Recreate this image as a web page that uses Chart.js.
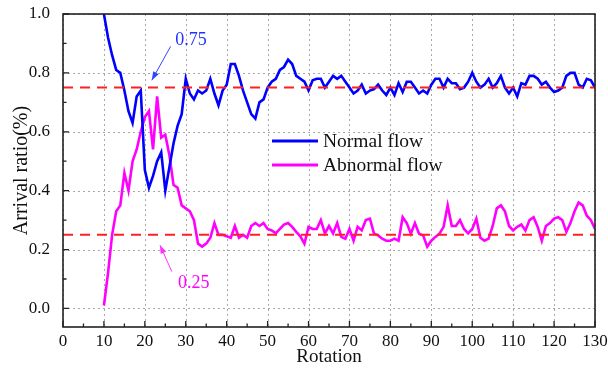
<!DOCTYPE html>
<html>
<head>
<meta charset="utf-8">
<script src="https://cdn.jsdelivr.net/npm/chart.js@4.4.0/dist/chart.umd.min.js"></script>
<style>
  html, body { margin: 0; padding: 0; background: #fff; }
  #wrap { width: 608px; height: 371px; }
</style>
</head>
<body>
<div id="wrap"><canvas id="grafico"></canvas></div>
<script>
// === DADOS ===
const rotation = [
  10, 11, 12, 13, 14, 15, 16, 17, 18, 19, 20, 21, 22, 23, 24, 25, 26, 27, 28, 29,
  30, 31, 32, 33, 34, 35, 36, 37, 38, 39, 40, 41, 42, 43, 44, 45, 46, 47, 48, 49,
  50, 51, 52, 53, 54, 55, 56, 57, 58, 59, 60, 61, 62, 63, 64, 65, 66, 67, 68, 69,
  70, 71, 72, 73, 74, 75, 76, 77, 78, 79, 80, 81, 82, 83, 84, 85, 86, 87, 88, 89,
  90, 91, 92, 93, 94, 95, 96, 97, 98, 99, 100, 101, 102, 103, 104, 105, 106, 107, 108, 109,
  110, 111, 112, 113, 114, 115, 116, 117, 118, 119, 120, 121, 122, 123, 124, 125, 126, 127, 128, 129,
  130
];

const normalFlow = [
  1.00, 0.92, 0.86, 0.81, 0.80, 0.74, 0.67, 0.63, 0.72, 0.74, 0.47, 0.41, 0.45, 0.50, 0.53, 0.40, 0.48, 0.56, 0.62, 0.66,
  0.78, 0.73, 0.71, 0.74, 0.73, 0.74, 0.78, 0.73, 0.69, 0.74, 0.76, 0.83, 0.83, 0.79, 0.74, 0.70, 0.66, 0.645, 0.70, 0.71,
  0.75, 0.77, 0.78, 0.81, 0.82, 0.845, 0.83, 0.79, 0.78, 0.77, 0.74, 0.775, 0.78, 0.78, 0.75, 0.77, 0.79, 0.78, 0.79, 0.77,
  0.75, 0.73, 0.74, 0.76, 0.73, 0.74, 0.745, 0.76, 0.74, 0.725, 0.75, 0.725, 0.765, 0.735, 0.77, 0.77, 0.75, 0.73, 0.74, 0.73,
  0.76, 0.78, 0.78, 0.75, 0.78, 0.765, 0.765, 0.745, 0.75, 0.77, 0.80, 0.77, 0.75, 0.76, 0.78, 0.75, 0.765, 0.79, 0.75, 0.73,
  0.75, 0.72, 0.765, 0.76, 0.79, 0.79, 0.78, 0.76, 0.77, 0.75, 0.735, 0.74, 0.75, 0.79, 0.80, 0.80, 0.76, 0.75, 0.78, 0.775,
  0.75
];

const abnormalFlow = [
  0.01, 0.12, 0.25, 0.33, 0.35, 0.46, 0.40, 0.50, 0.54, 0.60, 0.65, 0.67, 0.54, 0.72, 0.58, 0.59, 0.52, 0.42, 0.41, 0.35,
  0.34, 0.33, 0.30, 0.22, 0.21, 0.22, 0.24, 0.29, 0.25, 0.25, 0.245, 0.24, 0.28, 0.24, 0.25, 0.24, 0.28, 0.29, 0.28, 0.29,
  0.27, 0.265, 0.255, 0.27, 0.285, 0.29, 0.277, 0.26, 0.245, 0.22, 0.277, 0.27, 0.27, 0.30, 0.255, 0.28, 0.255, 0.29, 0.243, 0.237,
  0.27, 0.23, 0.277, 0.265, 0.30, 0.305, 0.254, 0.248, 0.237, 0.23, 0.23, 0.237, 0.23, 0.31, 0.29, 0.254, 0.29, 0.254, 0.248, 0.21,
  0.23, 0.243, 0.254, 0.277, 0.35, 0.28, 0.28, 0.30, 0.27, 0.255, 0.27, 0.305, 0.24, 0.23, 0.237, 0.28, 0.34, 0.35, 0.33, 0.28,
  0.265, 0.277, 0.285, 0.265, 0.30, 0.31, 0.277, 0.23, 0.28, 0.29, 0.305, 0.31, 0.30, 0.26, 0.29, 0.33, 0.36, 0.35, 0.315, 0.30,
  0.27
];

// linhas de referencia (tracejadas)
const refLevels = [0.75, 0.25];
const refLabels = ['0.75', '0.25'];

// ticks
const xTicks = [0, 10, 20, 30, 40, 50, 60, 70, 80, 90, 100, 110, 120, 130];
const yTicks = [0.0, 0.2, 0.4, 0.6, 0.8, 1.0];
const xMinor = [5, 15, 25, 35, 45, 55, 65, 75, 85, 95, 105, 115, 125];
const yMinor = [0.1, 0.3, 0.5, 0.7, 0.9];

const serif = "'Liberation Serif', 'Times New Roman', serif";

function pontos(valores) {
  return valores.map((v, i) => ({ x: rotation[i], y: v }));
}

// === PLUGIN: grade pontilhada, moldura, ticks internos, setas e legenda ===
const decoracao = {
  id: 'decoracao',
  beforeDatasetsDraw(chart) {
    const { ctx, chartArea: a, scales: { x, y } } = chart;
    ctx.save();
    ctx.strokeStyle = '#a8a8a8';
    ctx.lineWidth = 1;
    ctx.setLineDash([2, 3]);
    ctx.beginPath();
    xTicks.forEach(v => { const px = Math.round(x.getPixelForValue(v)) + 0.5; ctx.moveTo(px, a.top); ctx.lineTo(px, a.bottom); });
    yTicks.forEach(v => { const py = Math.round(y.getPixelForValue(v)) + 0.5; ctx.moveTo(a.left, py); ctx.lineTo(a.right, py); });
    ctx.stroke();
    ctx.restore();
  },
  afterDraw(chart) {
    const { ctx, chartArea: a, scales: { x, y } } = chart;
    ctx.save();

    // moldura
    ctx.strokeStyle = '#222';
    ctx.lineWidth = 1.6;
    ctx.strokeRect(a.left, a.top, a.right - a.left, a.bottom - a.top);

    // ticks para dentro
    ctx.lineWidth = 1.3;
    ctx.beginPath();
    xTicks.forEach(v => { const px = x.getPixelForValue(v); ctx.moveTo(px, a.bottom); ctx.lineTo(px, a.bottom - 6); });
    xMinor.forEach(v => { const px = x.getPixelForValue(v); ctx.moveTo(px, a.bottom); ctx.lineTo(px, a.bottom - 3.5); });
    yTicks.forEach(v => { const py = y.getPixelForValue(v); ctx.moveTo(a.left, py); ctx.lineTo(a.left + 6, py); });
    yMinor.forEach(v => { const py = y.getPixelForValue(v); ctx.moveTo(a.left, py); ctx.lineTo(a.left + 3.5, py); });
    ctx.stroke();

    // anotacoes com seta
    const seta = (x0, y0, x1, y1, cor) => {
      const ax = x.getPixelForValue(x0), ay = y.getPixelForValue(y0);
      const bx = x.getPixelForValue(x1), by = y.getPixelForValue(y1);
      const ang = Math.atan2(by - ay, bx - ax);
      ctx.strokeStyle = cor;
      ctx.fillStyle = cor;
      ctx.lineWidth = 1;
      ctx.beginPath();
      ctx.moveTo(ax, ay);
      ctx.lineTo(bx, by);
      ctx.stroke();
      ctx.beginPath();
      ctx.moveTo(bx, by);
      ctx.lineTo(bx - 9 * Math.cos(ang - 0.35), by - 9 * Math.sin(ang - 0.35));
      ctx.lineTo(bx - 9 * Math.cos(ang + 0.35), by - 9 * Math.sin(ang + 0.35));
      ctx.closePath();
      ctx.fill();
    };
    seta(26.3, 0.89, 21.7, 0.775, '#3344ff');
    seta(26.6, 0.125, 23.7, 0.215, '#ff33ff');

    ctx.font = '18px ' + serif;
    ctx.textBaseline = 'middle';
    ctx.textAlign = 'left';
    ctx.fillStyle = '#2233ff';
    ctx.fillText(refLabels[0], x.getPixelForValue(27.4), y.getPixelForValue(0.91));
    ctx.fillStyle = '#ff00ff';
    ctx.fillText(refLabels[1], x.getPixelForValue(28.1), y.getPixelForValue(0.087));

    // legenda
    const itens = [chart.data.datasets[2], chart.data.datasets[3]];
    const lx = 272, ly = [141, 165];
    ctx.font = '19.5px ' + serif;
    itens.forEach((ds, i) => {
      ctx.strokeStyle = ds.borderColor;
      ctx.lineWidth = 3;
      ctx.beginPath();
      ctx.moveTo(lx, ly[i]);
      ctx.lineTo(lx + 46, ly[i]);
      ctx.stroke();
      ctx.fillStyle = '#111';
      ctx.fillText(ds.label, lx + 51, ly[i] + 1);
    });

    ctx.restore();
  }
};

// === GRAFICO ===
const ctx = document.getElementById('grafico');

const grafico = new Chart(ctx, {
  type: 'line',
  data: {
    datasets: [
      {
        label: 'ref 0.75',
        data: [{ x: 0, y: refLevels[0] }, { x: 130, y: refLevels[0] }],
        borderColor: '#ff2020',
        borderWidth: 2,
        borderDash: [10, 7],
        pointRadius: 0,
        order: 0
      },
      {
        label: 'ref 0.25',
        data: [{ x: 0, y: refLevels[1] }, { x: 130, y: refLevels[1] }],
        borderColor: '#ff2020',
        borderWidth: 2,
        borderDash: [10, 7],
        pointRadius: 0,
        order: 0
      },
      {
        label: 'Normal flow',
        data: pontos(normalFlow),
        borderColor: '#0000ff',
        borderWidth: 2.6,
        pointRadius: 0,
        tension: 0,
        order: 1
      },
      {
        label: 'Abnormal flow',
        data: pontos(abnormalFlow),
        borderColor: '#ff00ff',
        borderWidth: 2.6,
        pointRadius: 0,
        tension: 0,
        order: 2
      }
    ]
  },
  options: {
    responsive: true,
    maintainAspectRatio: false,
    animation: false,
    layout: { padding: { top: 14, right: 13, left: 0, bottom: 0 } },
    plugins: {
      legend: { display: false },
      tooltip: { enabled: false }
    },
    scales: {
      x: {
        type: 'linear',
        min: 0,
        max: 130,
        afterBuildTicks: s => { s.ticks = xTicks.map(v => ({ value: v })); },
        afterFit: s => { s.height = 44; s.paddingLeft = 0; s.paddingRight = 0; },
        grid: { display: false, drawTicks: false },
        border: { display: false },
        ticks: { color: '#111', font: { family: serif, size: 17 }, padding: 4, maxRotation: 0 },
        title: { display: true, text: 'Rotation', color: '#111', font: { family: serif, size: 19 }, padding: { top: 0, bottom: 3 } }
      },
      y: {
        min: -0.063,
        max: 1.0,
        afterBuildTicks: s => { s.ticks = yTicks.map(v => ({ value: v })); },
        afterFit: s => { s.width = 63; s.paddingTop = 0; s.paddingBottom = 0; },
        grid: { display: false, drawTicks: false },
        border: { display: false },
        ticks: { color: '#111', font: { family: serif, size: 17 }, padding: 13, callback: v => v.toFixed(1) },
        title: { display: true, text: 'Arrival ratio(%)', color: '#111', font: { family: serif, size: 20 }, padding: { top: 10, bottom: 0 } }
      }
    }
  },
  plugins: [decoracao]
});
</script>
</body>
</html>
